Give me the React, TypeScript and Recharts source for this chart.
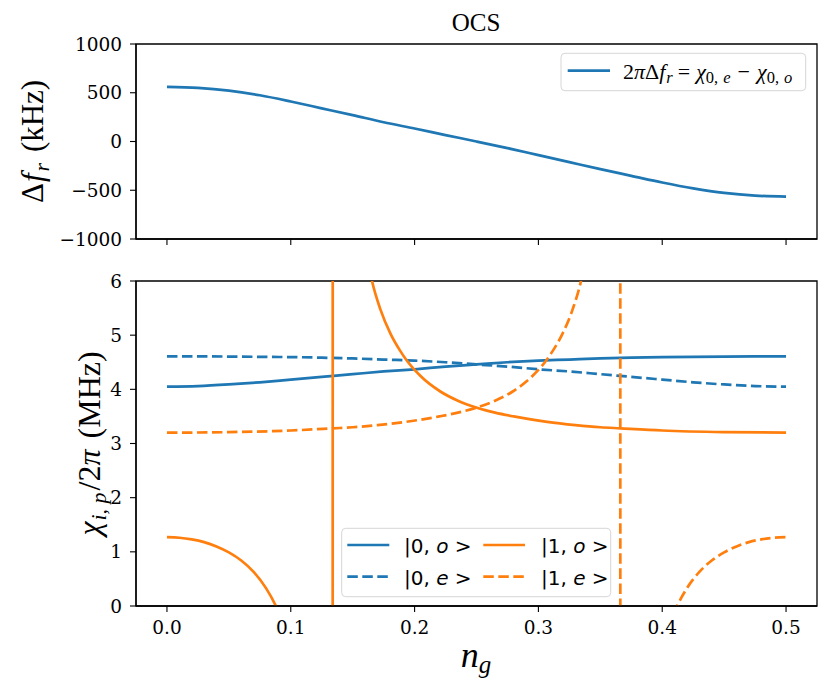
import React from "react";
import { LineChart, Line, XAxis, YAxis, ReferenceArea } from "recharts";

// top panel: resonator frequency shift vs gate charge
const topNg = [0, 0.025, 0.05, 0.075, 0.1, 0.125, 0.15, 0.175, 0.2, 0.225, 0.25, 0.275, 0.3, 0.325, 0.35, 0.375, 0.4, 0.425, 0.45, 0.475, 0.5];
const topDf = [560, 550, 522, 474, 410, 340, 270, 198, 133, 66, 0, -68, -140, -212, -284, -352, -420, -480, -527, -555, -565];

// bottom panel: dispersive shifts
const blueNg = topNg;
const chi0o = [4.05, 4.06, 4.09, 4.13, 4.18, 4.23, 4.28, 4.33, 4.37, 4.42, 4.46, 4.5, 4.53, 4.55, 4.57, 4.585, 4.595, 4.6, 4.605, 4.61, 4.61];
const chi0e = [4.61, 4.61, 4.605, 4.6, 4.595, 4.585, 4.57, 4.55, 4.53, 4.5, 4.46, 4.42, 4.37, 4.33, 4.28, 4.23, 4.18, 4.13, 4.09, 4.06, 4.05];

const ng1o = [0, 0.01, 0.02, 0.03, 0.04, 0.05, 0.06, 0.07, 0.08, 0.088, 0.095, 0.105, 0.12, 0.1335, 0.1342, 0.15, 0.16, 0.1656, 0.1723, 0.1807, 0.1884, 0.1925, 0.2046, 0.2208, 0.235, 0.2504, 0.265, 0.28, 0.307, 0.33, 0.35, 0.366, 0.4, 0.45, 0.5];
const chi1o = [1.27, 1.26, 1.23, 1.18, 1.1, 0.99, 0.84, 0.63, 0.33, 0.0, -0.38, -1.2, -4, -80, 80, 8.8, 6.66, 6.0, 5.48, 5.02, 4.71, 4.57, 4.25, 3.96, 3.79, 3.66, 3.57, 3.5, 3.4, 3.34, 3.3, 3.28, 3.24, 3.21, 3.2];

const ng1e = [0, 0.05, 0.1, 0.134, 0.15, 0.17, 0.193, 0.22, 0.235, 0.2496, 0.265, 0.2792, 0.2954, 0.3075, 0.3116, 0.3193, 0.3277, 0.3344, 0.34, 0.35, 0.3658, 0.3665, 0.38, 0.395, 0.405, 0.412, 0.42, 0.43, 0.44, 0.45, 0.46, 0.47, 0.48, 0.49, 0.5];
const chi1e = [3.2, 3.21, 3.24, 3.28, 3.3, 3.34, 3.4, 3.5, 3.57, 3.66, 3.79, 3.96, 4.25, 4.57, 4.71, 5.02, 5.48, 6.0, 6.66, 8.8, 80, -80, -4, -1.2, -0.38, 0.0, 0.33, 0.63, 0.84, 0.99, 1.1, 1.18, 1.23, 1.26, 1.27];

const xTicks = [0, 0.1, 0.2, 0.3, 0.4, 0.5];
const topYTicks = [-1000, -500, 0, 500, 1000];
const bottomYTicks = [0, 1, 2, 3, 4, 5, 6];

const zip = (xs: number[], ys: number[]) => xs.map((x, i) => ({ x, y: ys[i] }));

const BLUE = "#1f77b4";
const ORANGE = "#ff7f0e";
const DASH = "10.5 4.5";
const LW = 2.7;
const tickStyle = { fill: "#000", fontSize: 18.5, fontFamily: "DejaVu Serif" };
const minus = (v: number) => (v < 0 ? "\u2212" + Math.abs(v) : String(v));

function Frame({ y1, y2 }: { y1: number; y2: number }) {
    return <ReferenceArea x1={-0.025} x2={0.525} y1={y1} y2={y2} fill="none" fillOpacity={0} stroke="#000" strokeWidth={1.3} strokeOpacity={1} />;
}

function Overlay() {
    const serif = "Liberation Serif";
    return (
        <svg width={831} height={692} style={{ position: "absolute", left: 0, top: 0, pointerEvents: "none" }}>
            <text x={476} y={31} textAnchor="middle" fontFamily={serif} fontSize={25}>OCS</text>

            {/* y labels */}
            <text transform="translate(43,141.4) rotate(-90)" textAnchor="middle" fontFamily={serif} fontSize={31}>
                Δ<tspan fontStyle="italic" dx={1}>f</tspan>
                <tspan fontStyle="italic" fontSize={22} dy={6} dx={2}>r</tspan>
                <tspan dy={-6} dx={3}> (kHz)</tspan>
            </text>
            <text transform="translate(100,443.5) rotate(-90)" textAnchor="middle" fontFamily={serif} fontSize={32}>
                <tspan fontStyle="italic">χ</tspan>
                <tspan fontStyle="italic" fontSize={22} dy={6} dx={1}>i</tspan>
                <tspan fontSize={22}>, </tspan>
                <tspan fontStyle="italic" fontSize={22}>p</tspan>
                <tspan dy={-6} dx={2}>/2</tspan>
                <tspan fontStyle="italic">π</tspan>
                <tspan dx={3}> (MHz)</tspan>
            </text>
            <text x={476} y={667} textAnchor="middle" fontFamily={serif} fontSize={36}>
                <tspan fontStyle="italic">n</tspan>
                <tspan fontStyle="italic" fontSize={25} dy={6}>g</tspan>
            </text>

            {/* top legend */}
            <rect x={561} y={53.3} width={244.7} height={37.4} rx={4} fill="#fff" fillOpacity={0.8} stroke="#d6d6d6" />
            <line x1={567.7} x2={610} y1={70.7} y2={70.7} stroke={BLUE} strokeWidth={LW} />
            <text x={623} y={79.3} fontFamily={serif} fontSize={22}>
                2<tspan fontStyle="italic">π</tspan>Δ<tspan fontStyle="italic">f</tspan>
                <tspan fontStyle="italic" fontSize={16.5} dy={4} dx={1}>r</tspan>
                <tspan dy={-4} dx={5} fontSize={22}>=</tspan>
                <tspan fontStyle="italic" fontSize={22} dx={6}>χ</tspan>
                <tspan fontSize={16.5} dy={4}>0,</tspan>
                <tspan fontStyle="italic" fontSize={16.5} dx={5}>e</tspan>
                <tspan dy={-4} dx={7} fontSize={22}>−</tspan>
                <tspan fontStyle="italic" fontSize={22} dx={7}>χ</tspan>
                <tspan fontSize={16.5} dy={4}>0,</tspan>
                <tspan fontStyle="italic" fontSize={16.5} dx={5}>o</tspan>
            </text>

            {/* bottom legend */}
            <rect x={341.7} y={528.3} width={269} height={68.4} rx={4} fill="#fff" fillOpacity={0.8} stroke="#d6d6d6" />
            <line x1={347.3} x2={389.3} y1={545} y2={545} stroke={BLUE} strokeWidth={LW} />
            <line x1={347.3} x2={389.3} y1={576.7} y2={576.7} stroke={BLUE} strokeWidth={LW} strokeDasharray={DASH} />
            <line x1={483.3} x2={525} y1={545} y2={545} stroke={ORANGE} strokeWidth={LW} />
            <line x1={483.3} x2={525} y1={576.7} y2={576.7} stroke={ORANGE} strokeWidth={LW} strokeDasharray={DASH} />
            <g fontFamily="DejaVu Sans" fontSize={20}>
                <text x={404} y={553}>|0, <tspan fontStyle="italic">o</tspan> &gt;</text>
                <text x={404} y={585}>|0, <tspan fontStyle="italic">e</tspan> &gt;</text>
                <text x={541} y={553}>|1, <tspan fontStyle="italic">o</tspan> &gt;</text>
                <text x={541} y={585}>|1, <tspan fontStyle="italic">e</tspan> &gt;</text>
            </g>
        </svg>
    );
}

export default function App() {
    return (
        <div style={{ position: "absolute", left: 0, top: 0, width: 831, height: 692, background: "#fff" }}>
            <div style={{ position: "absolute", left: 0, top: 0 }}>
                <LineChart width={831} height={250} margin={{ top: 44, right: 14, bottom: 0, left: 0 }}>
                    <XAxis type="number" dataKey="x" domain={[-0.025, 0.525]} ticks={xTicks} allowDataOverflow
                        height={11} tickSize={6} tickFormatter={() => ""} stroke="#000" strokeWidth={1.3} tickLine={{ stroke: "#000", strokeWidth: 1.1 }} />
                    <YAxis type="number" domain={[-1000, 1000]} ticks={topYTicks} allowDataOverflow width={136}
                        tickSize={6} tickMargin={8} tick={tickStyle} tickFormatter={minus} stroke="#000" strokeWidth={1.3} tickLine={{ stroke: "#000", strokeWidth: 1.1 }} />
                    <Frame y1={-1000} y2={1000} />
                    <Line data={zip(topNg, topDf)} dataKey="y" type="monotone" stroke={BLUE} strokeWidth={LW} dot={false} activeDot={false} isAnimationActive={false} />
                </LineChart>
            </div>
            <div style={{ position: "absolute", left: 0, top: 260 }}>
                <LineChart width={831} height={432} margin={{ top: 21, right: 14, bottom: 46, left: 0 }}>
                    <XAxis type="number" dataKey="x" domain={[-0.025, 0.525]} ticks={xTicks} allowDataOverflow
                        height={40} tickSize={6} tickMargin={9} tick={tickStyle} tickFormatter={(v: number) => v.toFixed(1)} stroke="#000" strokeWidth={1.3} tickLine={{ stroke: "#000", strokeWidth: 1.1 }} />
                    <YAxis type="number" domain={[0, 6]} ticks={bottomYTicks} allowDataOverflow width={136}
                        tickSize={6} tickMargin={8} tick={tickStyle} stroke="#000" strokeWidth={1.3} tickLine={{ stroke: "#000", strokeWidth: 1.1 }} />
                    <Frame y1={0} y2={6} />
                    <Line data={zip(blueNg, chi0o)} dataKey="y" type="monotone" stroke={BLUE} strokeWidth={LW} dot={false} activeDot={false} isAnimationActive={false} />
                    <Line data={zip(blueNg, chi0e)} dataKey="y" type="monotone" stroke={BLUE} strokeWidth={LW} strokeDasharray={DASH} dot={false} activeDot={false} isAnimationActive={false} />
                    <Line data={zip(ng1o, chi1o)} dataKey="y" type="monotone" stroke={ORANGE} strokeWidth={LW} dot={false} activeDot={false} isAnimationActive={false} />
                    <Line data={zip(ng1e, chi1e)} dataKey="y" type="monotone" stroke={ORANGE} strokeWidth={LW} strokeDasharray={DASH} dot={false} activeDot={false} isAnimationActive={false} />
                </LineChart>
            </div>
            <Overlay />
        </div>
    );
}
